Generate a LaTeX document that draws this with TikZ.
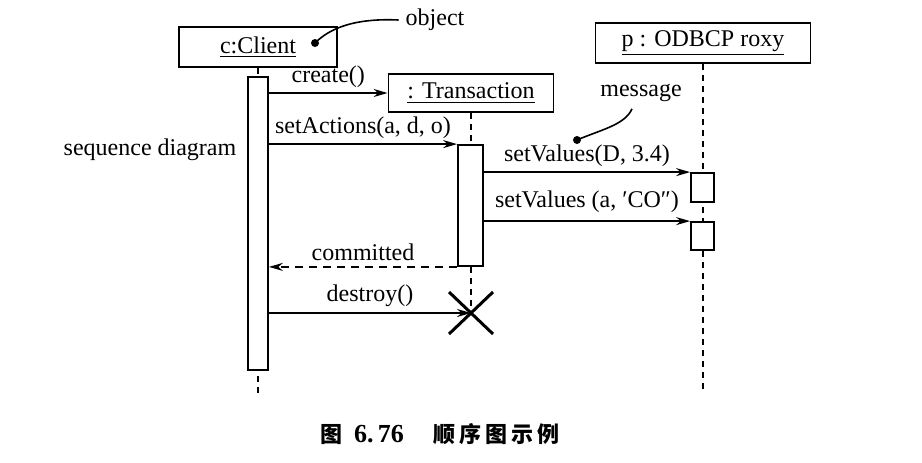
\documentclass[tikz,border=0pt]{standalone}
\usepackage{fontspec}
\setmainfont{Liberation Serif}
\newfontfamily\cjk{Noto Sans CJK SC}
\usetikzlibrary{arrows.meta}
\usetikzlibrary{calc}

\begin{document}
\begin{tikzpicture}[x=0.5pt,y=-0.5pt,
    font=\fontsize{12}{14}\selectfont,
    objbox/.style={draw,line width=0.9pt,inner sep=0pt},
    actbar/.style={draw,fill=white,line width=0.9pt,inner sep=0pt,minimum width=10pt},
    msg/.style={line width=0.85pt,arrows={-Stealth[length=7pt,width=4pt]}},
    reply/.style={msg,dash pattern=on 4pt off 3pt},
    lifeline/.style={line width=0.7pt,dash pattern=on 3pt off 2.5pt},
    lbl/.style={above,inner sep=2.5pt}]
  \useasboundingbox (0,0) rectangle (922,462);

  % objects
  \node[objbox,minimum width=79pt,minimum height=20pt] (client) at (258,47) {\underline{c:Client}};
  \node[objbox,minimum width=82.5pt,minimum height=19pt] (trans) at (471,93) {\underline{: Transaction}};
  \node[objbox,minimum width=107.5pt,minimum height=20pt] (proxy) at (703,43) {\underline{p : ODBCP roxy}};

  % lifelines
  \coordinate (cend) at (258,395);
  \coordinate (kill) at (471,313);
  \coordinate (pend) at (703,392);
  \draw[lifeline] (client.south) -- (cend);
  \draw[lifeline] (trans.south) -- (kill);
  \draw[lifeline] (proxy.south) -- (pend);

  % activations
  \node[actbar,minimum height=146.5pt] (cact) at (258,223.5) {};
  \node[actbar,minimum width=12.5pt,minimum height=60.5pt] (tact) at (470.5,205.5) {};
  \node[actbar,minimum width=11.5pt,minimum height=14.5pt] (pact1) at (702.5,187.5) {};
  \node[actbar,minimum width=11.5pt,minimum height=14pt] (pact2) at (702.5,236) {};

  % messages
  \draw[msg] (cact.east |- trans.west) -- node[lbl] {create()} (trans.west);
  \draw[msg] (cact.east |- tact.north west) -- node[lbl] {setActions(a, d, o)} (tact.north west);
  \draw[msg] (tact.east |- pact1.north west) -- node[lbl] {setValues(D, 3.4)} (pact1.north west);
  \draw[msg] (tact.east |- pact2.north west) -- node[lbl,inner sep=4pt] {setValues (a, ′CO″)} (pact2.north west);
  \draw[reply] (tact.south west) -- node[lbl] {committed} (cact.east |- tact.south west);
  \draw[msg] (cact.east |- kill) -- node[lbl] {destroy()} (kill);
  \draw[line width=1.5pt] (kill) +(-22,-21) -- +(22,21) (kill) +(-22,21) -- +(22,-21);

  % notes
  \node (seqlabel) at (150,150) {sequence diagram};
  \node (objlabel) at (435,20) {object};
  \node (msglabel) at (641,93) {message};
  \coordinate (objdot) at (315,43);
  \coordinate (msgdot) at (577,140);
  \fill (objdot) circle[radius=4];
  \fill (msgdot) circle[radius=4];
  \draw[line width=0.8pt] (objdot) .. controls (330,28) and (355,18) .. (objlabel.west);
  \draw[line width=0.8pt] (msgdot) .. controls (600,130) and (625,125) .. ($(msglabel.south)+(-9,0)$);

  % caption
  \node[font=\cjk\bfseries\fontsize{11}{11}\selectfont] (caption) at (440,434)
    {图\hspace{6pt}{\rmfamily\bfseries\fontsize{13}{13}\selectfont 6.\,76}\hspace{15pt}顺\hspace{2pt}序\hspace{2pt}图\hspace{2pt}示\hspace{2pt}例};
\end{tikzpicture}
\end{document}
